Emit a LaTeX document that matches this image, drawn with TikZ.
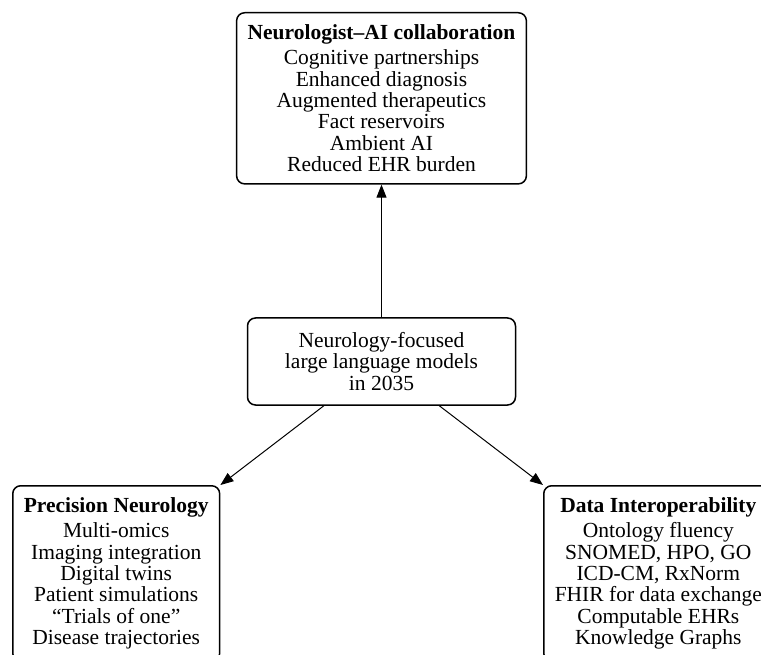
\documentclass[tikz,border=0pt]{standalone}
\usepackage{fontspec}
\setmainfont{Liberation Serif}
\usetikzlibrary{arrows.meta}

\tikzset{
	box/.style={draw,line width=1.5pt,rounded corners=8pt,align=center,inner xsep=11pt,inner ysep=12pt,font=\fontsize{21.5}{21.4}\selectfont},
	link/.style={line width=1pt,-{Triangle[length=13pt,width=10pt]}}
}

\begin{document}
\begin{tikzpicture}[x=1pt,y=-1pt]
	\useasboundingbox (0,0) rectangle (761,655);
	\clip (0,0) rectangle (761,655);
	\node[box,anchor=north] (collab) at (381.5,12) {\textbf{Neurologist--AI collaboration}\\[3.6pt]Cognitive partnerships\\Enhanced diagnosis\\Augmented therapeutics\\Fact reservoirs\\Ambient AI\\Reduced EHR burden};
	\node[box,minimum width=268pt,minimum height=87pt] (llm) at (381.5,361.5) {Neurology-focused\\large language models\\in 2035};
	\node[box,anchor=north west] (precision) at (12,485) {\textbf{Precision Neurology}\\[3.6pt]Multi-omics\\Imaging integration\\Digital twins\\Patient simulations\\``Trials of one''\\Disease trajectories};
	\node[box,anchor=north west] (interop) at (543,485) {\textbf{Data Interoperability}\\[3.6pt]Ontology fluency\\SNOMED, HPO, GO\\ICD-CM, RxNorm\\FHIR for data exchange\\Computable EHRs\\Knowledge Graphs};

	\draw[link] (llm) -- (collab);
	\draw[link] (llm) -- (precision.north east);
	\draw[link] (llm) -- (interop.north west);
\end{tikzpicture}
\end{document}
